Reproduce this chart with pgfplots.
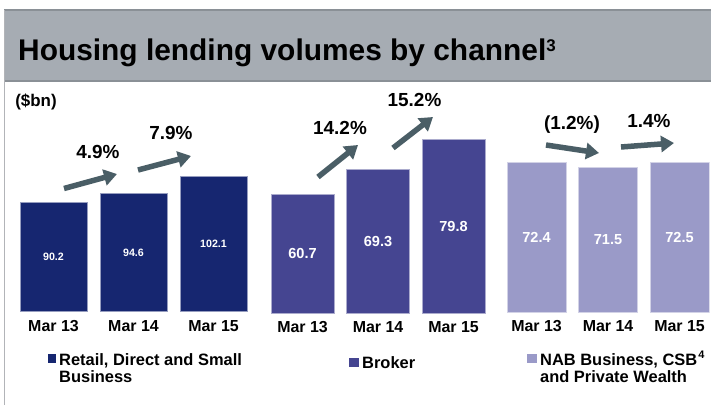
\documentclass[border=0pt]{standalone}
\usepackage{fontspec}
\setmainfont{Liberation Sans}
\usepackage{pgfplots}
\pgfplotsset{compat=1.18}
\usetikzlibrary{arrows.meta}
\definecolor{c1}{RGB}{22,38,112}
\definecolor{c2}{RGB}{69,69,145}
\definecolor{c3}{RGB}{154,154,200}
\definecolor{arr}{RGB}{74,94,102}
\definecolor{band}{RGB}{166,172,179}
\definecolor{bandline}{RGB}{138,144,150}
\definecolor{leftline}{RGB}{178,180,184}
\pgfplotsset{
  chan/.style={scale only axis, anchor=south west, xmin=-0.5,
    axis line style={draw=none}, major tick length=0pt, ytick=\empty,
    xtick=data, xticklabels={Mar 13,Mar 14,Mar 15},
    xticklabel style={anchor=center, font=\bfseries\fontsize{16}{16}\selectfont},
    /pgf/number format/assume math mode=true},
}
\begin{document}
\begin{tikzpicture}
\begin{scope}[x=1bp,y=1bp]
\useasboundingbox (0,0) rectangle (711,405);
\fill[white] (0,0) rectangle (711,405);
\fill[band] (4,324) rectangle (711,395);
\draw[bandline, line width=1.2bp] (4,395) -- (711,395);
\draw[bandline, line width=1.4bp] (4,324) -- (711,324);
\draw[leftline, line width=1.6bp] (4.5,0) -- (4.5,395);
\node[anchor=base west, inner sep=0, font=\bfseries\fontsize{30}{32}\selectfont] at (18,345) {Housing lending volumes by channel\raisebox{8.5bp}{\fontsize{17}{18}\selectfont 3}};
\node[anchor=center, inner sep=0, font=\bfseries\fontsize{17}{18}\selectfont] at (36,303) {(\$bn)};
\end{scope}

% Group 1
\begin{axis}[chan, at={(13.5bp,93.3bp)}, xmax=2.5, width=240bp, ymin=40.3, ymax=110, height=152.3bp,
  xticklabel style={yshift=-14.8bp}]
\addplot[ybar, bar width=0.8375, fill=c1, draw=c1!45!white, line width=0.6bp,
  nodes near coords, nodes near coords align={center},
  visualization depends on=rawy \as \yv,
  every node near coord/.style={anchor=center, text=white, font=\bfseries\fontsize{10.7}{12}\selectfont, yshift={-(\yv-40.3)*1.0966}},
  /pgf/number format/.cd, fixed, precision=1, fixed zerofill]
coordinates {(0,90.2) (1,94.6) (2,102.1)};
\end{axis}

% Group 2
\begin{axis}[chan, at={(264.75bp,92bp)}, xmax=2.5, width=226.5bp, ymin=19.7, ymax=90, height=203.5bp,
  xticklabel style={yshift=-14.5bp}]
\addplot[ybar, bar width=0.834, fill=c2, draw=c2!45!white, line width=0.6bp,
  nodes near coords, nodes near coords align={center},
  visualization depends on=rawy \as \yv,
  every node near coord/.style={anchor=center, text=white, font=\bfseries\fontsize{14.6}{16}\selectfont, yshift={-(\yv-19.7)*1.4529}},
  /pgf/number format/.cd, fixed, precision=1, fixed zerofill]
coordinates {(0,60.7) (1,69.3) (2,79.8)};
\end{axis}

% Group 3
\begin{axis}[chan, at={(500.75bp,93bp)}, xmax=2.42, width=208.8bp, ymin=41.6, ymax=80, height=186.2bp,
  xticklabel style={yshift=-14.5bp}]
\addplot[ybar, bar width=0.825, fill=c3, draw=c3!45!white, line width=0.6bp,
  nodes near coords, nodes near coords align={center},
  visualization depends on=rawy \as \yv,
  every node near coord/.style={anchor=center, text=white, font=\bfseries\fontsize{14.6}{16}\selectfont, yshift={-(\yv-41.6)*2.434}},
  /pgf/number format/.cd, fixed, precision=1, fixed zerofill]
coordinates {(0,72.4) (1,71.5) (2,72.5)};
\end{axis}

\begin{scope}[x=1bp,y=1bp]
% growth arrows
\begin{scope}[arr, line width=5.5bp, -{Triangle[length=13bp,width=16bp]}]
\draw (64,216.5) -- (117,231);
\draw (138,235) -- (191,249);
\draw (318,228) -- (358,260);
\draw (393,257) -- (433,288);
\draw (546,260) -- (599,252);
\draw (621,258) -- (674,262);
\end{scope}
\begin{scope}[every node/.style={anchor=center, inner sep=0, font=\bfseries\fontsize{19}{20}\selectfont}]
\node at (98,253.5) {4.9\%};
\node at (171,272) {7.9\%};
\node at (340,277.5) {14.2\%};
\node at (414.5,305) {15.2\%};
\node at (572,280) {(1.2\%)};
\node at (649,284) {1.4\%};
\end{scope}

% legend
\fill[c1] (48,42) rectangle (56,51);
\fill[c2] (349,38.3) rectangle (358.5,47.3);
\fill[c3] (527,42) rectangle (536.5,51);
\begin{scope}[every node/.style={anchor=base west, inner sep=0, font=\bfseries\fontsize{16.5}{18}\selectfont}]
\node at (59,40) {Retail, Direct and Small};
\node at (59,22.3) {Business};
\node at (362,36.5) {Broker};
\node at (540,40) {NAB Business, CSB\kern1bp\raisebox{7bp}{\fontsize{11}{12}\selectfont 4}};
\node at (540,22.3) {and Private Wealth};
\end{scope}
\end{scope}
\end{tikzpicture}
\end{document}
